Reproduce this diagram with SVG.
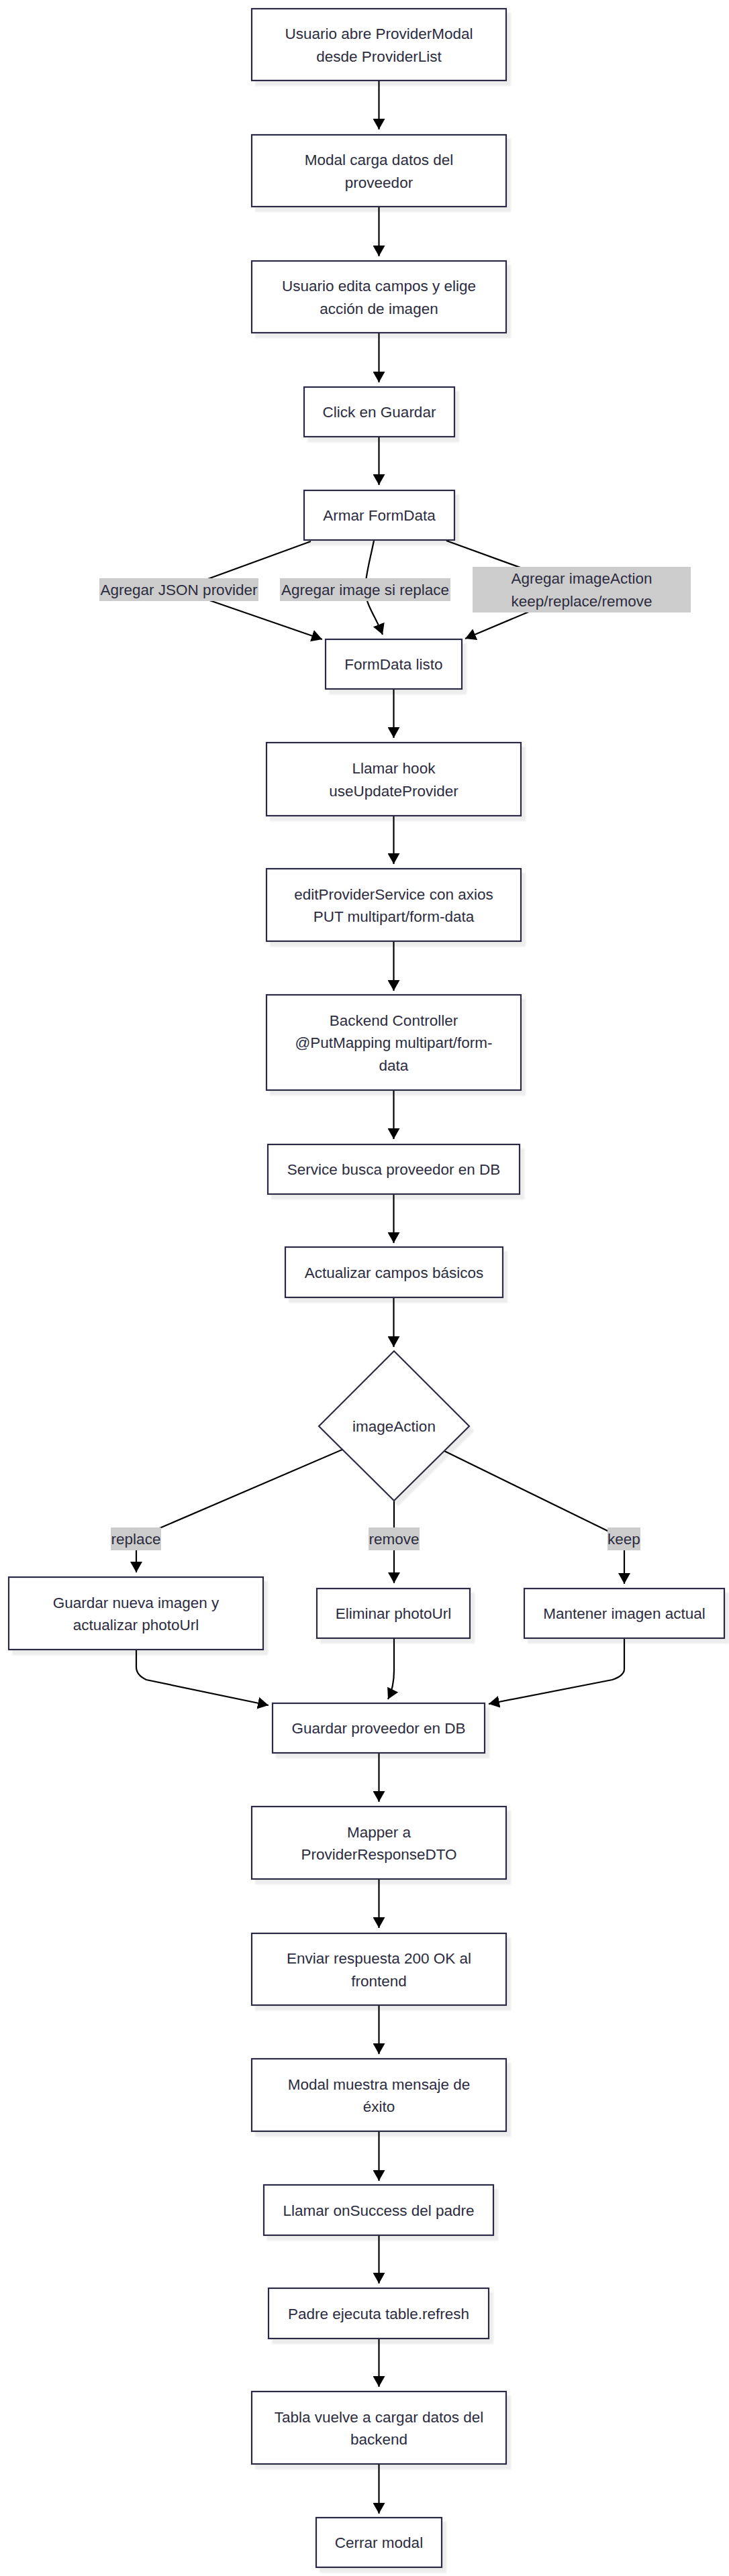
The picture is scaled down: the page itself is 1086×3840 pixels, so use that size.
<svg xmlns="http://www.w3.org/2000/svg" width="1086" height="3840" viewBox="0 0 1086 3840">
<style>
.n rect, .n polygon { fill:#ffffff; stroke:#2c2c44; stroke-width:2.2; filter:url(#sh); }
.t { font-family:"Liberation Sans", Arial, sans-serif; font-size:22.5px; fill:#2c2c40; text-anchor:middle; }
.e { fill:none; stroke:#000000; stroke-width:2.2; marker-end:url(#ah); }
.lb { fill:#cccccc; }
</style>
<defs>
<marker id="ah" viewBox="0 0 16 18" refX="16" refY="9" markerWidth="16" markerHeight="18" markerUnits="userSpaceOnUse" orient="auto">
<path d="M0,0 L16,9 L0,18 z" fill="#000000"/>
</marker>
<filter id="sh" x="-10%" y="-10%" width="130%" height="140%">
<feDropShadow dx="6" dy="7" stdDeviation="0.8" flood-color="#000000" flood-opacity="0.07"/>
</filter>
</defs>
<rect width="1086" height="3840" fill="#ffffff"/>

<g id="connectors">
<path class="e" d="M564.5,120 L564.5,193"/>
<path class="e" d="M564.5,308 L564.5,382"/>
<path class="e" d="M564.5,496 L564.5,570"/>
<path class="e" d="M564.5,651 L564.5,723"/>
<path class="e" d="M463,807 L266,879 L480,953"/>
<path class="e" d="M557,806 C550,840 544,860 544,879 C544,900 560,920 570,946"/>
<path class="e" d="M665,806 L866,879 L693,952"/>
<path class="e" d="M586.5,1027 L586.5,1100"/>
<path class="e" d="M586.5,1216 L586.5,1288"/>
<path class="e" d="M586.5,1403 L586.5,1477"/>
<path class="e" d="M586.5,1625 L586.5,1698"/>
<path class="e" d="M586.5,1780 L586.5,1853"/>
<path class="e" d="M586.5,1934 L586.5,2008"/>
<path class="e" d="M512,2160 L240,2277 Q203,2290 203,2300 L203,2344"/>
<path class="e" d="M587,2236 L587,2360"/>
<path class="e" d="M662,2163 L905,2282 Q930,2290 930,2300 L930,2361"/>
<path class="e" d="M203,2459 L203,2485 Q203,2497 218,2504 L400,2542"/>
<path class="e" d="M587,2442 L587,2490 Q587,2515 578,2533"/>
<path class="e" d="M930,2442 L930,2488 Q930,2498 912,2504 L728,2540"/>
<path class="e" d="M564.5,2613 L564.5,2686"/>
<path class="e" d="M564.5,2801 L564.5,2874"/>
<path class="e" d="M564.5,2989 L564.5,3062"/>
<path class="e" d="M564.5,3177 L564.5,3251"/>
<path class="e" d="M564.5,3332 L564.5,3404"/>
<path class="e" d="M564.5,3486 L564.5,3558"/>
<path class="e" d="M564.5,3673 L564.5,3747"/>
</g>

<g id="edge-labels">
<rect class="lb" x="148" y="862" width="237" height="34"/>
<text class="t" x="266.5" y="887">Agregar JSON provider</text>
<rect class="lb" x="417" y="862" width="254" height="34"/>
<text class="t" x="544" y="887">Agregar image si replace</text>
<rect class="lb" x="704" y="845" width="325" height="68"/>
<text class="t" x="866.5" y="870">Agregar imageAction</text>
<text class="t" x="866.5" y="904">keep/replace/remove</text>
<rect class="lb" x="165" y="2277" width="75" height="34"/>
<text class="t" x="202.5" y="2302">replace</text>
<rect class="lb" x="549" y="2277" width="76" height="34"/>
<text class="t" x="587" y="2302">remove</text>
<rect class="lb" x="905" y="2277" width="49" height="34"/>
<text class="t" x="929.5" y="2302">keep</text>
</g>

<g id="n1" class="n"><rect x="375" y="13" width="379" height="107"/>
<text class="t" x="564.5" y="58">Usuario abre ProviderModal</text>
<text class="t" x="564.5" y="91.5">desde ProviderList</text></g>

<g id="n2" class="n"><rect x="375" y="201" width="379" height="107"/>
<text class="t" x="564.5" y="246">Modal carga datos del</text>
<text class="t" x="564.5" y="279.5">proveedor</text></g>

<g id="n3" class="n"><rect x="375" y="389" width="379" height="107"/>
<text class="t" x="564.5" y="434">Usuario edita campos y elige</text>
<text class="t" x="564.5" y="467.5">acción de imagen</text></g>

<g id="n4" class="n"><rect x="453" y="577" width="224" height="74"/>
<text class="t" x="565" y="622">Click en Guardar</text></g>

<g id="n5" class="n"><rect x="453" y="731" width="224" height="74"/>
<text class="t" x="565" y="776">Armar FormData</text></g>

<g id="n6" class="n"><rect x="485" y="953" width="203" height="74"/>
<text class="t" x="586.5" y="998">FormData listo</text></g>

<g id="n7" class="n"><rect x="397" y="1107" width="379" height="109"/>
<text class="t" x="586.5" y="1153">Llamar hook</text>
<text class="t" x="586.5" y="1186.5">useUpdateProvider</text></g>

<g id="n8" class="n"><rect x="397" y="1295" width="379" height="108"/>
<text class="t" x="586.5" y="1340.5">editProviderService con axios</text>
<text class="t" x="586.5" y="1374">PUT multipart/form-data</text></g>

<g id="n9" class="n"><rect x="397" y="1483" width="379" height="142"/>
<text class="t" x="586.5" y="1528.5">Backend Controller</text>
<text class="t" x="586.5" y="1562">@PutMapping multipart/form-</text>
<text class="t" x="586.5" y="1595.5">data</text></g>

<g id="n10" class="n"><rect x="399" y="1706" width="375" height="74"/>
<text class="t" x="586.5" y="1751">Service busca proveedor en DB</text></g>

<g id="n11" class="n"><rect x="425" y="1859" width="324" height="75"/>
<text class="t" x="587" y="1904.5">Actualizar campos básicos</text></g>

<g id="n12" class="n"><polygon points="587,2014 699,2126 587,2237 475,2126" style="stroke-width:2.2"/>
<text class="t" x="587" y="2134">imageAction</text></g>

<g id="n13" class="n"><rect x="13" y="2351" width="379" height="108"/>
<text class="t" x="202.5" y="2396.5">Guardar nueva imagen y</text>
<text class="t" x="202.5" y="2430">actualizar photoUrl</text></g>

<g id="n14" class="n"><rect x="472" y="2368" width="228" height="74"/>
<text class="t" x="586" y="2413">Eliminar photoUrl</text></g>

<g id="n15" class="n"><rect x="781" y="2368" width="298" height="74"/>
<text class="t" x="930" y="2413">Mantener imagen actual</text></g>

<g id="n16" class="n"><rect x="406" y="2539" width="316" height="74"/>
<text class="t" x="564" y="2584">Guardar proveedor en DB</text></g>

<g id="n17" class="n"><rect x="375" y="2693" width="379" height="108"/>
<text class="t" x="564.5" y="2738.5">Mapper a</text>
<text class="t" x="564.5" y="2772">ProviderResponseDTO</text></g>

<g id="n18" class="n"><rect x="375" y="2882" width="379" height="107"/>
<text class="t" x="564.5" y="2927">Enviar respuesta 200 OK al</text>
<text class="t" x="564.5" y="2960.5">frontend</text></g>

<g id="n19" class="n"><rect x="375" y="3069" width="379" height="108"/>
<text class="t" x="564.5" y="3114.5">Modal muestra mensaje de</text>
<text class="t" x="564.5" y="3148">éxito</text></g>

<g id="n20" class="n"><rect x="393" y="3257" width="342" height="75"/>
<text class="t" x="564" y="3302.5">Llamar onSuccess del padre</text></g>

<g id="n21" class="n"><rect x="400" y="3411" width="328" height="75"/>
<text class="t" x="564" y="3456.5">Padre ejecuta table.refresh</text></g>

<g id="n22" class="n"><rect x="375" y="3565" width="379" height="108"/>
<text class="t" x="564.5" y="3610.5">Tabla vuelve a cargar datos del</text>
<text class="t" x="564.5" y="3644">backend</text></g>

<g id="n23" class="n"><rect x="471" y="3753" width="187" height="74"/>
<text class="t" x="564.5" y="3798">Cerrar modal</text></g>
</svg>
